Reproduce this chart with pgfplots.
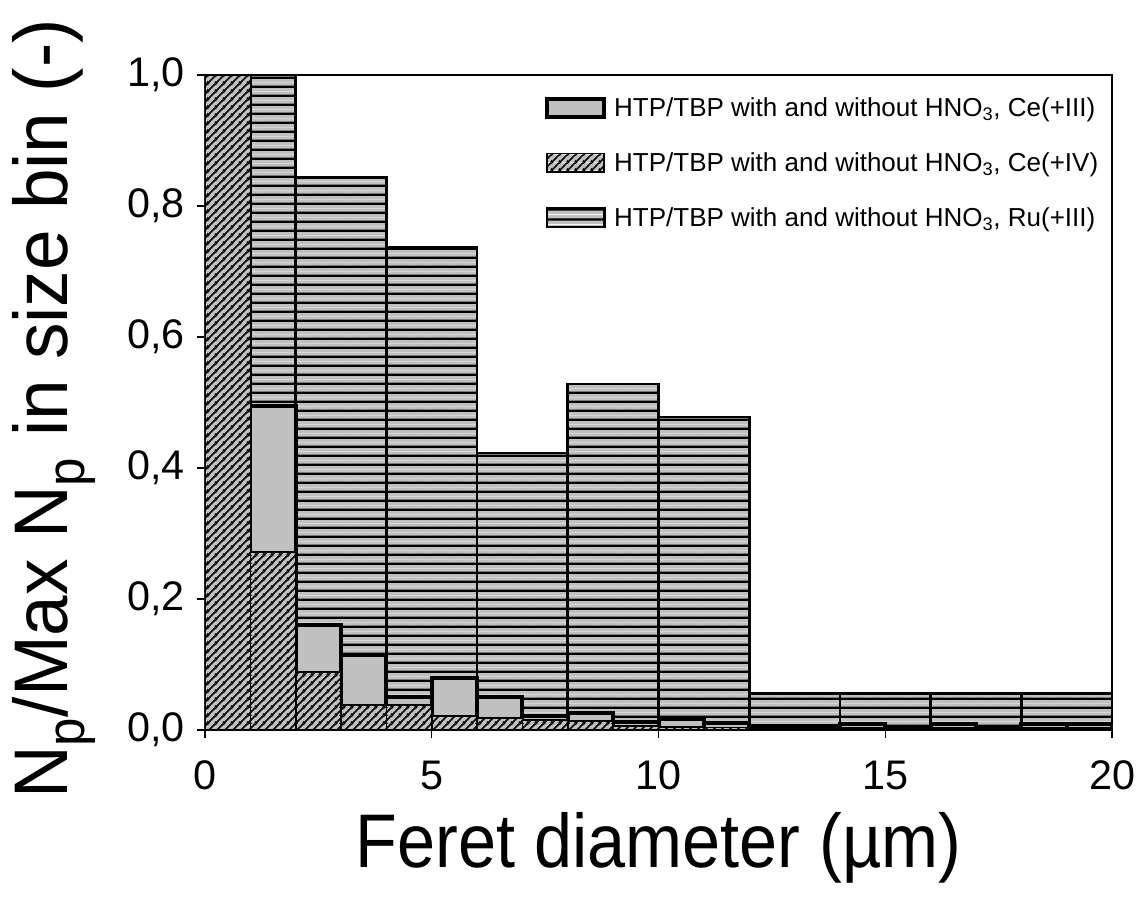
\documentclass[border=0pt]{standalone}
\usepackage{fontspec}
\setmainfont{Liberation Sans}
\newfontfamily\xlabelfont{Liberation Sans}[FakeStretch=0.9]
\newfontfamily\ylabelfont{Liberation Sans}[FakeStretch=0.96]
\usepackage{pgfplots}
\pgfplotsset{compat=1.18}
\usetikzlibrary{patterns}
\definecolor{barGray}{RGB}{192,192,192}
\pgfdeclarepatterninherentlycolored{ruPat}{\pgfpointorigin}{\pgfqpoint{10pt}{7pt}}{\pgfqpoint{10pt}{7pt}}{%
  \pgfsetfillcolor{barGray}\pgfpathrectangle{\pgfpointorigin}{\pgfqpoint{10pt}{7pt}}\pgfusepath{fill}%
  \pgfsetstrokecolor{black}\pgfsetlinewidth{1.8pt}%
  \pgfpathmoveto{\pgfqpoint{-1pt}{3.5pt}}\pgfpathlineto{\pgfqpoint{11pt}{3.5pt}}\pgfusepath{stroke}}
\pgfdeclarepatterninherentlycolored{cePat}{\pgfpointorigin}{\pgfqpoint{6pt}{6pt}}{\pgfqpoint{6pt}{6pt}}{%
  \pgfsetfillcolor{barGray}\pgfpathrectangle{\pgfpointorigin}{\pgfqpoint{6pt}{6pt}}\pgfusepath{fill}%
  \pgfsetstrokecolor{black}\pgfsetlinewidth{1.25pt}%
  \pgfpathmoveto{\pgfqpoint{-1pt}{-1pt}}\pgfpathlineto{\pgfqpoint{7pt}{7pt}}%
  \pgfpathmoveto{\pgfqpoint{-1pt}{5pt}}\pgfpathlineto{\pgfqpoint{1pt}{7pt}}%
  \pgfpathmoveto{\pgfqpoint{5pt}{-1pt}}\pgfpathlineto{\pgfqpoint{7pt}{1pt}}%
  \pgfusepath{stroke}}
\tikzset{
  ce3/.style={draw=black, line width=3pt, fill=barGray},
  ce4/.style={draw=black, line width=1.2pt, pattern=cePat},
  ru/.style={draw=black, line width=2pt, pattern=ruPat},
}
\begin{document}
\begin{tikzpicture}
\begin{axis}[name=ax, scale only axis, width=680.25pt, height=491.25pt,
  xmin=0, xmax=20, ymin=0, ymax=1, enlargelimits=false,
  xtick={0,5,10,15,20}, ytick={0,0.2,0.4,0.6,0.8,1.0},
  x tick label as interval=false,
  xtick pos=left, ytick pos=left,
  tick align=outside, major tick length=6pt,
  tick style={black, line width=1pt},
  axis line style={line width=1.3pt},
  /pgf/number format/assume math mode=true,
  yticklabel style={/pgf/number format/.cd, fixed, fixed zerofill, precision=1, use comma},
  tick label style={font=\fontsize{31}{36}\selectfont, inner sep=0pt},
  yticklabel shift=9pt, xticklabel shift=17pt,
  xlabel={\xlabelfont\fontsize{57}{60}\selectfont Feret diameter (µm)},
  ylabel={\ylabelfont\fontsize{57}{60}\selectfont N\textsubscript{p}/Max N\textsubscript{p} in size bin (-)},
  every axis x label/.style={at={(axis description cs:0.5,-0.1252)}, anchor=north, inner sep=0pt},
  every axis y label/.style={at={(axis description cs:-0.2128,0.49)}, rotate=90, anchor=north, inner sep=0pt},
  legend style={at={(axis description cs:0.988,0.97)}, anchor=north east, draw=none, fill=none,
    font=\fontsize{19.5}{22}\selectfont, row sep=21.5pt, inner sep=0pt, cells={anchor=west}},
  legend image code/.code={\draw[#1] (0pt,-7pt) rectangle (43pt,7pt); \path (47pt,0pt);},
]
% Ru(+III), bins of width 2
\addplot[ru, ybar interval, forget plot] coordinates {
 (0,1.0) (2,0.843) (4,0.737) (6,0.423) (8,0.528) (10,0.478)
 (12,0.056) (14,0.056) (16,0.056) (18,0.056) (20,0)};
% Ce(+III), bins of width 1
\addplot[ce3, ybar interval, forget plot] coordinates {
 (0,1.0) (1,0.495) (2,0.160) (3,0.115) (4,0.050) (5,0.079) (6,0.050)
 (7,0.022) (8,0.026) (9,0.012) (10,0.017) (11,0.011) (12,0.006) (13,0.006)
 (14,0.009) (15,0.005) (16,0.009) (17,0.005) (18,0.009) (19,0.009) (20,0)};
% Ce(+IV), bins of width 1
\addplot[ce4, ybar interval, forget plot] coordinates {
 (0,1.0) (1,0.272) (2,0.089) (3,0.038) (4,0.038) (5,0.021) (6,0.018)
 (7,0.015) (8,0.014) (9,0.006) (10,0.005) (11,0.004) (12,0.003) (13,0.003)
 (14,0.003) (15,0.003) (16,0.003) (17,0.003) (18,0.003) (19,0.003) (20,0)};
\addlegendimage{ce3}
\addlegendentry{HTP/TBP with and without HNO\textsubscript{3}, Ce(+III)}
\addlegendimage{ce4}
\addlegendentry{HTP/TBP with and without HNO\textsubscript{3}, Ce(+IV)}
\addlegendimage{ru}
\addlegendentry{HTP/TBP with and without HNO\textsubscript{3}, Ru(+III)}
\end{axis}
\pgfresetboundingbox
\path[use as bounding box] ([xshift=-153.75pt, yshift=-132pt]ax.south west) rectangle ([xshift=21pt, yshift=56.25pt]ax.north east);
\end{tikzpicture}
\end{document}
